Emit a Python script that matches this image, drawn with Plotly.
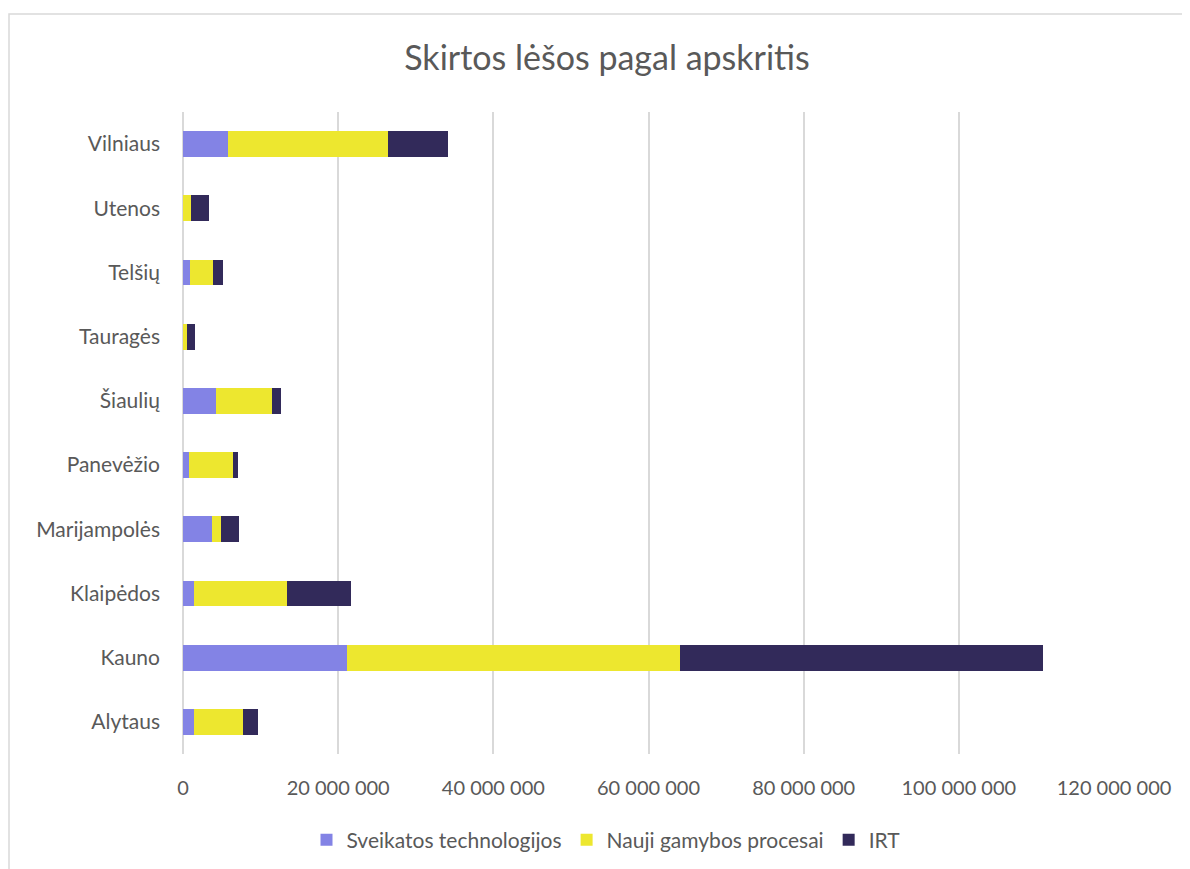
import plotly.graph_objects as go

categories = ["Alytaus", "Kauno", "Klaipėdos", "Marijampolės", "Panevėžio",
              "Šiaulių", "Tauragės", "Telšių", "Utenos", "Vilniaus"]
sveikatos = [1_370_000, 21_200_000, 1_460_000, 3_740_000, 770_000,
             4_250_000, 0, 940_000, 0, 5_760_000]
nauji = [6_320_000, 42_900_000, 12_000_000, 1_200_000, 5_670_000,
         7_200_000, 520_000, 2_930_000, 990_000, 20_640_000]
irt = [1_940_000, 46_700_000, 8_250_000, 2_280_000, 610_000,
       1_230_000, 980_000, 1_230_000, 2_360_000, 7_800_000]
series_names = ["Sveikatos technologijos", "Nauji gamybos procesai", "IRT"]
colors = ["#8383E5", "#EDE72F", "#322A5A"]
x_ticks = [0, 20_000_000, 40_000_000, 60_000_000, 80_000_000, 100_000_000, 120_000_000]

W, H = 1190, 869
OFF = 8  # browser body margin
L, R, T, B = 183 - OFF, 1114 - OFF, 112 - OFF, 754 - OFF
pw, ph = R - L, B - T

def px(x):
    return (x - OFF - L) / pw

def py(y):
    return (B - (y - OFF)) / ph

fig = go.Figure()
for name, vals, col in zip(series_names, [sveikatos, nauji, irt], colors):
    fig.add_trace(go.Bar(
        y=categories, x=vals, name=name, orientation="h",
        marker=dict(color=col, line=dict(width=0)),
    ))

font_family = "Lato, Carlito, 'Open Sans', sans-serif"
text_col = "#595959"

fig.update_layout(
    width=W, height=H,
    margin=dict(l=L, r=W - R, t=T, b=H - B, pad=0),
    barmode="stack",
    bargap=0.6,
    paper_bgcolor="white",
    plot_bgcolor="white",
    separators=", ",
    font=dict(family=font_family, color=text_col, size=21),
    title=dict(
        text="Skirtos lėšos pagal apskritis",
        x=(607 - OFF) / W, xref="container", xanchor="center",
        y=1 - (58 - OFF) / H, yref="container", yanchor="middle",
        font=dict(size=34, color=text_col, family=font_family),
    ),
    xaxis=dict(
        range=[0, 120_000_000],
        tickvals=x_ticks,
        tickformat=",d",
        showgrid=True, gridcolor="#D9D9D9", gridwidth=1.5,
        zeroline=True, zerolinecolor="#D9D9D9", zerolinewidth=1.5,
        showline=False,
        ticks="", ticklabelstandoff=20,
        tickfont=dict(size=20, color=text_col),
        fixedrange=True,
    ),
    yaxis=dict(
        categoryorder="array", categoryarray=categories,
        showgrid=False, zeroline=False, showline=False,
        ticks="", ticklabelstandoff=22,
        tickfont=dict(size=21, color=text_col),
        fixedrange=True,
    ),
    legend=dict(
        orientation="h",
        x=px(606), xanchor="center",
        y=py(840), yanchor="middle",
        font=dict(size=21, color=text_col),
        traceorder="normal",
        itemwidth=30,
        bgcolor="rgba(0,0,0,0)",
    ),
    showlegend=True,
)

# chart area border (light gray), partly cropped at right/bottom
fig.add_shape(type="rect", xref="paper", yref="paper",
              x0=px(9), x1=px(1260), y0=py(14), y1=py(930),
              line=dict(color="#D9D9D9", width=1.5), fillcolor="rgba(0,0,0,0)",
              layer="below")

fig.write_html("out.html")
